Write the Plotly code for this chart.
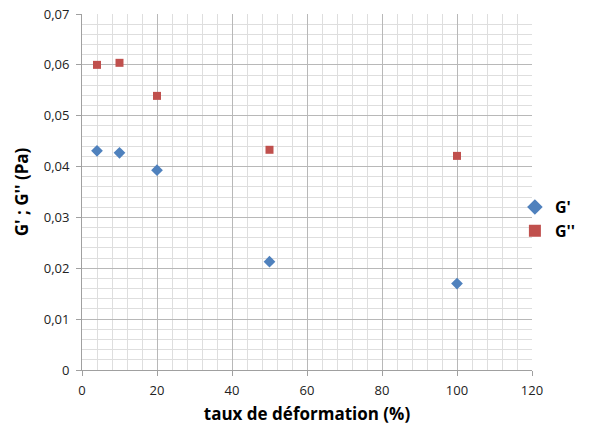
import plotly.graph_objects as go

x_vals = [4, 10, 20, 50, 100]
g_prime = [0.0431, 0.0427, 0.0393, 0.0213, 0.0170]
g_second = [0.0600, 0.0604, 0.0539, 0.0433, 0.0421]

x_ticks = [0, 20, 40, 60, 80, 100, 120]
x_ticktext = ["0", "20", "40", "60", "80", "100", "120"]
y_ticks = [0, 0.01, 0.02, 0.03, 0.04, 0.05, 0.06, 0.07]
y_ticktext = ["0", "0,01", "0,02", "0,03", "0,04", "0,05", "0,06", "0,07"]

font_family = "Open Sans, Liberation Sans, sans-serif"

fig = go.Figure()
fig.add_trace(go.Scatter(x=x_vals, y=g_prime, mode="markers", name="G'",
                         marker=dict(symbol="diamond", size=9, color="#4F81BD")))
fig.add_trace(go.Scatter(x=x_vals, y=g_second, mode="markers", name="G''",
                         marker=dict(symbol="square", size=8, color="#C0504D")))

grid_major = "#b8b8b8"
grid_minor = "#dedede"

fig.update_layout(
    width=600, height=430,
    margin=dict(l=82, r=68, t=14, b=60, autoexpand=False),
    paper_bgcolor="white", plot_bgcolor="white",
    font=dict(family=font_family, color="#000000"),
    showlegend=True,
    legend=dict(x=0.962, y=0.424, xanchor="left", yanchor="middle",
                font=dict(size=16, family=font_family, color="#000000", weight="bold"),
                itemsizing="constant", bgcolor="rgba(0,0,0,0)"),
    xaxis=dict(range=[0, 120], tickvals=x_ticks, ticktext=x_ticktext,
               showgrid=True, gridcolor=grid_major, gridwidth=1,
               minor=dict(dtick=4, showgrid=True, gridcolor=grid_minor, gridwidth=1),
               showline=True, linecolor="#a0a0a0", linewidth=1,
               ticks="outside", ticklen=5, tickcolor="#a0a0a0",
               tickfont=dict(size=13, color="#222222"), ticklabelstandoff=3,
               ticklabeloverflow="allow",
               title=dict(text="<b>taux de déformation (%)</b>", font=dict(size=17), standoff=10),
               zeroline=False, fixedrange=True, automargin=False),
    yaxis=dict(range=[0, 0.07], tickvals=y_ticks, ticktext=y_ticktext,
               showgrid=True, gridcolor=grid_major, gridwidth=1,
               minor=dict(dtick=0.002, showgrid=True, gridcolor=grid_minor, gridwidth=1),
               showline=True, linecolor="#a0a0a0", linewidth=1,
               ticks="outside", ticklen=5, tickcolor="#a0a0a0",
               tickfont=dict(size=13, color="#222222"), ticklabelstandoff=4,
               ticklabeloverflow="allow",
               title=dict(text="<b>G' ; G'' (Pa)</b>", font=dict(size=17), standoff=10),
               zeroline=False, fixedrange=True, automargin=False),
)

fig.write_html("out.html", config={"displayModeBar": False, "staticPlot": True},
               post_script="document.body.style.margin='0';")
